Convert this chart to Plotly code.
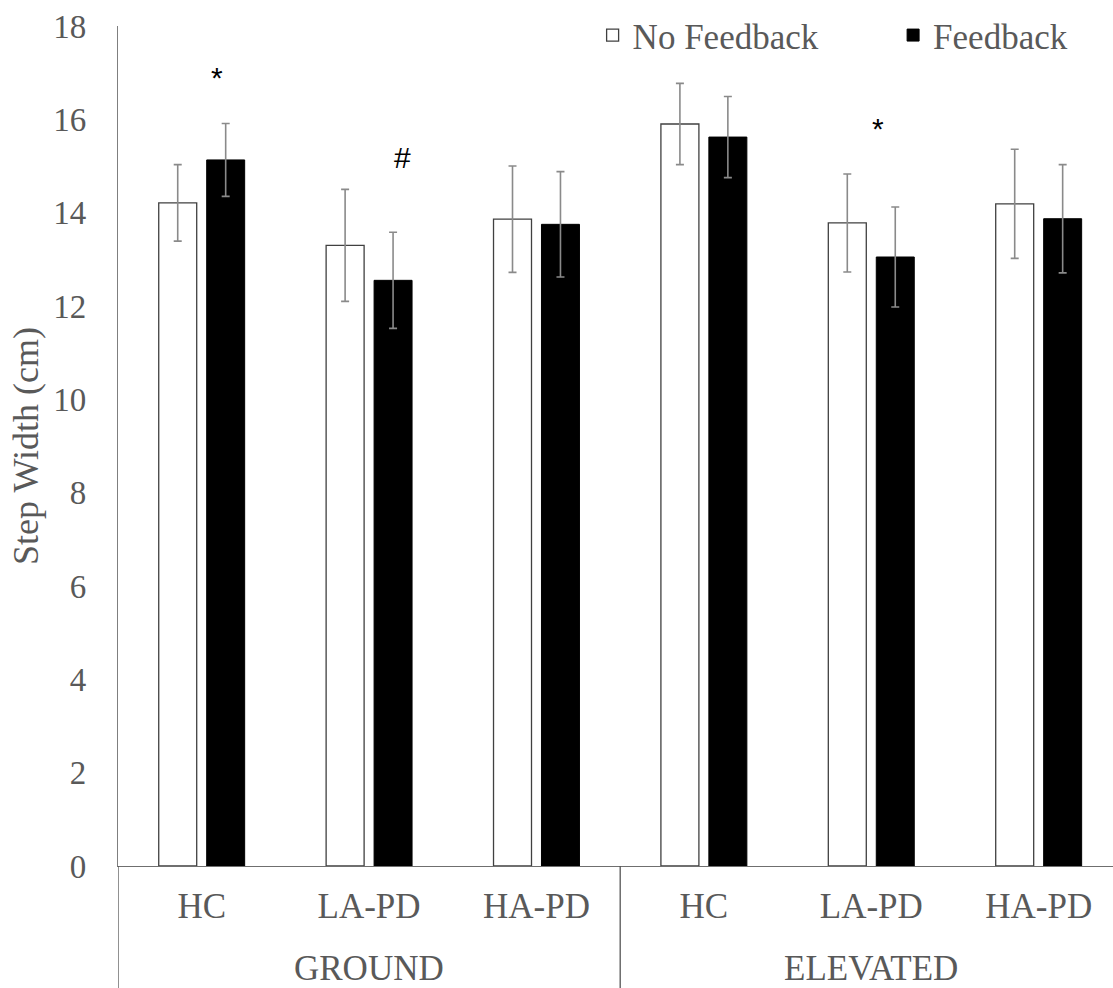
import plotly.graph_objects as go

# Step width by group and walking surface
categories = ["HC", "LA-PD", "HA-PD", "HC", "LA-PD", "HA-PD"]
surfaces = ["GROUND", "ELEVATED"]
no_feedback = [14.21, 13.30, 13.86, 15.90, 13.78, 14.19]
no_feedback_err = [0.82, 1.20, 1.14, 0.87, 1.05, 1.17]
feedback = [15.13, 12.55, 13.75, 15.62, 13.05, 13.87]
feedback_err = [0.78, 1.03, 1.13, 0.87, 1.07, 1.16]
y_ticks = [0, 2, 4, 6, 8, 10, 12, 14, 16, 18]

# significance markers: (category index, height, symbol)
sig_marks = [(0.09, 16.89, "*"), (1.20, 15.18, "#"), (4.04, 15.80, "*")]

SERIF = "Liberation Serif"
TEXT_GREY = "#595959"
LINE_GREY = "#7f7f7f"

pos = list(range(len(categories)))

fig = go.Figure()
fig.add_trace(go.Bar(
    x=pos, y=no_feedback, name="No Feedback", legend="legend", showlegend=True,
    marker=dict(color="white", line=dict(color="#404040", width=1.3)),
    error_y=dict(type="data", array=no_feedback_err, visible=True,
                 color="#8a8a8a", thickness=1.6, width=4),
))
fig.add_trace(go.Bar(
    x=pos, y=feedback, name="Feedback", legend="legend2", showlegend=True,
    marker=dict(color="black", line=dict(color="black", width=1)),
    error_y=dict(type="data", array=feedback_err, visible=True,
                 color="#8a8a8a", thickness=1.6, width=4),
))

for xm, ym, sym in sig_marks:
    fig.add_annotation(x=xm, y=ym, text=sym, showarrow=False,
                       font=dict(family="Liberation Sans", size=30, color="black"))

# surface group labels under the category labels
n_per = len(categories) // len(surfaces)
for i, s in enumerate(surfaces):
    center = i * n_per + (n_per - 1) / 2
    fig.add_annotation(x=center, y=0, yref="paper", yanchor="middle", yshift=-102,
                       text=s, showarrow=False,
                       font=dict(family=SERIF, size=35, color=TEXT_GREY))

# group dividers extending below the axis
for i in range(len(surfaces)):
    xb = i * n_per - 0.5
    fig.add_shape(type="line", xref="x", yref="paper", x0=xb, x1=xb, y0=0, y1=-0.2,
                  line=dict(color="#555555", width=1.3))

legend_style = dict(orientation="h", xanchor="left", y=1.024, yanchor="top",
                    font=dict(family=SERIF, size=35, color=TEXT_GREY),
                    bgcolor="rgba(0,0,0,0)", itemclick=False)

fig.update_layout(
    width=1113, height=988,
    margin=dict(l=118, r=0, t=26, b=122),
    paper_bgcolor="white", plot_bgcolor="white",
    showlegend=True,
    barmode="group", bargap=0.427, bargroupgap=0.208,
    font=dict(family=SERIF, color=TEXT_GREY),
    legend=dict(x=0.477, **legend_style),
    legend2=dict(x=0.779, **legend_style),
    xaxis=dict(
        range=[-0.5, 5.444], tickvals=pos, ticktext=categories,
        showgrid=False, zeroline=False, showline=True, linecolor="#6f6f6f", linewidth=1.3,
        ticks="", tickfont=dict(family=SERIF, size=35, color=TEXT_GREY),
        ticklabelstandoff=9,
    ),
    yaxis=dict(
        range=[0, 18], tickvals=y_ticks, showgrid=False, zeroline=False,
        showline=True, linecolor=LINE_GREY, linewidth=1.3,
        ticks="", tickfont=dict(family=SERIF, size=33, color=TEXT_GREY),
        ticklabelstandoff=24,
        title=dict(text="Step Width (cm)", font=dict(family=SERIF, size=36, color=TEXT_GREY),
                   standoff=3),
    ),
)

fig.write_html("out.html")
